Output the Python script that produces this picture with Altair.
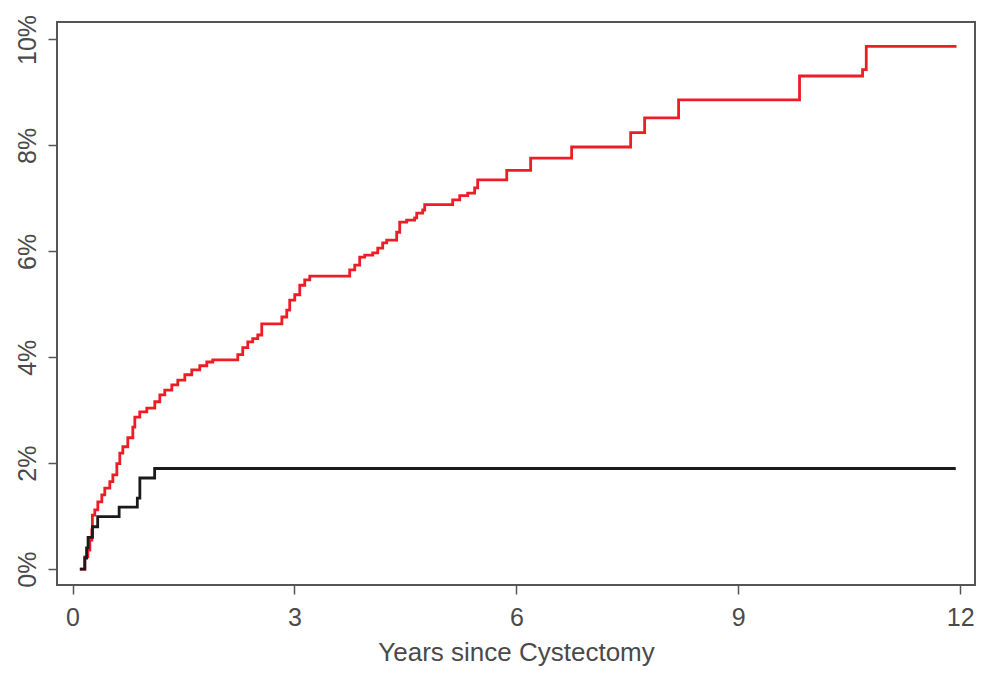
import altair as alt
import pandas as pd

# Cumulative incidence step curves (years since cystectomy, percent)
red_years = [0.099, 0.166, 0.207, 0.234, 0.261, 0.268, 0.301, 0.342, 0.396, 0.436,
             0.504, 0.545, 0.599, 0.639, 0.680, 0.747, 0.815, 0.842, 0.909, 1.004,
             1.112, 1.180, 1.247, 1.342, 1.423, 1.518, 1.612, 1.720, 1.815, 1.896,
             2.234, 2.301, 2.369, 2.436, 2.504, 2.558, 2.830, 2.896, 2.936, 3.004,
             3.072, 3.139, 3.207, 3.747, 3.815, 3.882, 3.950, 4.058, 4.126, 4.193,
             4.247, 4.382, 4.423, 4.517, 4.625, 4.653, 4.734, 4.761, 5.139, 5.234,
             5.342, 5.436, 5.477, 5.870, 6.193, 6.747, 7.545, 7.734, 8.193, 9.828,
             10.68, 10.73, 11.95]
red_pct = [0.00, 0.23, 0.36, 0.55, 0.74, 1.02, 1.12, 1.27, 1.40, 1.53,
           1.65, 1.78, 1.99, 2.19, 2.31, 2.48, 2.68, 2.87, 2.97, 3.04,
           3.16, 3.29, 3.38, 3.48, 3.57, 3.67, 3.76, 3.84, 3.91, 3.95,
           4.05, 4.18, 4.29, 4.35, 4.42, 4.63, 4.76, 4.89, 5.08, 5.18,
           5.36, 5.46, 5.53, 5.65, 5.74, 5.89, 5.93, 5.97, 6.06, 6.16,
           6.21, 6.36, 6.55, 6.59, 6.63, 6.72, 6.78, 6.88, 6.97, 7.05,
           7.10, 7.20, 7.35, 7.53, 7.76, 7.97, 8.24, 8.52, 8.86, 9.31,
           9.43, 9.87, 9.87]

black_years = [0.099, 0.166, 0.190, 0.210, 0.270, 0.340, 0.630, 0.876, 0.910, 1.110, 11.94]
black_pct = [0.00, 0.21, 0.40, 0.60, 0.80, 0.99, 1.17, 1.34, 1.72, 1.90, 1.90]

x_ticks = [0, 3, 6, 9, 12]
y_ticks = [0, 2, 4, 6, 8, 10]

red_df = pd.DataFrame({"years": red_years, "pct": red_pct})
black_df = pd.DataFrame({"years": black_years, "pct": black_pct})

W, H = 918, 563
FONT = "Liberation Sans"
GREY = "#4a4a4a"

x_enc = alt.X("years:Q",
              scale=alt.Scale(domain=[-0.21, 12.2], nice=False, zero=False),
              axis=alt.Axis(values=x_ticks, format="d", title="Years since Cystectomy",
                            grid=False, domain=False, tickSize=9, tickWidth=1.5,
                            tickColor="#555555", labelFont=FONT, labelFontSize=25,
                            labelColor=GREY, labelBaseline="alphabetic",
                            labelPadding=31, labelFlush=False,
                            titleFont=FONT, titleFontSize=26, titleFontWeight="normal",
                            titleColor=GREY, titleBaseline="alphabetic",
                            titleX=W / 2, titleY=75, titleAlign="center"))
y_enc = alt.Y("pct:Q",
              scale=alt.Scale(domain=[-0.3, 10.33], nice=False, zero=False),
              axis=alt.Axis(values=y_ticks, title=None, grid=False, domain=False,
                            tickSize=9, tickWidth=1.5, tickColor="#555555",
                            labelExpr="datum.value + '%'", labelFont=FONT,
                            labelFontSize=25, labelColor=GREY, labelAngle=270,
                            labelAlign="center", labelBaseline="alphabetic",
                            labelPadding=13, labelFlush=False))

red_line = alt.Chart(red_df).mark_line(
    interpolate="step-after", color="#EE1C25", strokeWidth=2.8
).encode(x=x_enc, y=y_enc)

black_line = alt.Chart(black_df).mark_line(
    interpolate="step-after", color="#1a1a1a", strokeWidth=2.8
).encode(x="years:Q", y="pct:Q")

chart = alt.layer(red_line, black_line).properties(
    width=W, height=H,
    autosize=alt.AutoSizeParams(type="none"),
    padding={"left": 49, "top": 14, "right": 7, "bottom": 90},
    background="white",
).configure_view(stroke="#555555", strokeWidth=2)

chart.save("out.html", embed_options={"renderer": "svg", "actions": False})
